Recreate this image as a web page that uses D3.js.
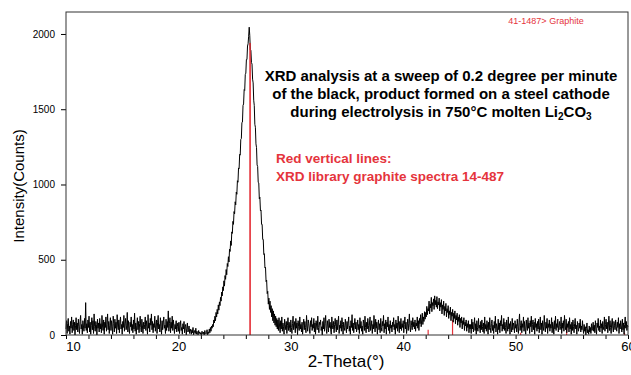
<!DOCTYPE html>
<html>
<head>
<meta charset="utf-8">
<script src="https://cdn.jsdelivr.net/npm/d3@7"></script>
<style>
  body { margin: 0; background: #fff; }
  text { font-family: "Liberation Sans", Arial, sans-serif; }
</style>
</head>
<body>
<div id="chart"></div>
<script>
// scan start / step (2-theta, degrees)
var thetaStart = 10, thetaStep = 0.05;

// intensity counts, one row per degree (10.00 .. 60.00)
var intensity = [
  40, 95, 10, 75, 110, 25, 60, 5, 90, 45, 120, 15, 70, 100, 30, 85, 0, 65, 115, 35,
  80, 20, 105, 55, 10, 90, 130, 40, 70, 5, 95, 60, 25, 110, 45, 215, 30, 75, 15, 100,
  50, 125, 20, 85, 5, 65, 115, 35, 95, 10, 140, 55, 25, 90, 70, 0, 105, 45, 80, 20,
  110, 40, 75, 15, 130, 60, 30, 100, 5, 85, 50, 120, 25, 70, 140, 35, 90, 10, 65, 115,
  30, 95, 55, 5, 125, 75, 20, 105, 45, 85, 10, 135, 60, 35, 100, 15, 80, 120, 40, 70,
  5, 90, 50, 130, 25, 75, 110, 35, 60, 150, 20, 95, 45, 10, 85, 55, 120, 30, 70, 15,
  100, 40, 145, 25, 80, 5, 65, 115, 35, 90, 15, 75, 125, 50, 20, 105, 60, 10, 85, 40,
  70, 120, 30, 95, 55, 5, 135, 45, 80, 20, 110, 65, 140, 35, 90, 15, 75, 50, 125, 25,
  60, 100, 10, 85, 130, 40, 70, 20, 115, 55, 5, 95, 35, 80, 120, 45, 65, 10, 105, 30,
  90, 50, 160, 25, 75, 115, 15, 85, 45, 125, 30, 100, 60, 10, 70, 40, 95, 20, 55, 80,
  25, 85, 10, 60, 95, 30, 50, 5, 75, 40, 90, 15, 55, 70, 0, 45, 80, 20, 35, 60,
  10, 40, 25, 5, 35, 15, 50, 0, 20, 30, 10, 45, 5, 25, 15, 0, 30, 10, 20, 5,
  15, 0, 25, 10, 5, 20, 0, 30, 10, 5, 15, 35, 0, 20, 10, 40, 15, 50, 25, 60,
  45, 70, 55, 100, 80, 125, 95, 150, 120, 170, 140, 200, 165, 220, 195, 250, 225, 285, 260, 320,
  295, 360, 325, 395, 370, 435, 400, 475, 455, 520, 485, 570, 555, 625, 595, 685, 675, 755, 735, 820,
  805, 885, 865, 950, 935, 1025, 1015, 1110, 1105, 1200, 1195, 1300, 1305, 1410, 1415, 1525, 1535, 1630, 1625, 1730,
  1740, 1830, 1830, 1920, 1935, 1985, 2045, 1990, 1895, 1890, 1810, 1800, 1700, 1675, 1560, 1525, 1400, 1380, 1270, 1245,
  1130, 1120, 1015, 1010, 905, 915, 825, 830, 735, 735, 635, 635, 535, 540, 445, 450, 355, 365, 275, 290,
  205, 245, 170, 225, 150, 195, 120, 175, 95, 160, 80, 140, 65, 125, 55, 110, 40, 100, 30, 115,
  60, 15, 95, 40, 120, 25, 80, 55, 5, 105, 70, 35, 90, 10, 65, 115, 30, 85, 45, 20,
  100, 50, 10, 75, 125, 35, 60, 90, 15, 110, 45, 80, 0, 95, 55, 30, 120, 40, 70, 20,
  85, 5, 65, 105, 35, 90, 50, 15, 130, 60, 25, 100, 75, 40, 10, 95, 55, 115, 30, 70,
  45, 110, 20, 80, 5, 95, 60, 35, 125, 50, 15, 85, 70, 100, 30, 55, 0, 90, 40, 115,
  25, 75, 130, 45, 10, 95, 60, 20, 105, 50, 85, 35, 5, 120, 65, 40, 90, 15, 70, 110,
  55, 20, 100, 35, 80, 125, 10, 65, 45, 95, 25, 115, 70, 5, 85, 50, 30, 105, 60, 15,
  90, 40, 75, 120, 25, 60, 5, 95, 50, 135, 30, 80, 15, 65, 110, 40, 85, 20, 55, 100,
  35, 70, 10, 115, 45, 90, 25, 60, 5, 100, 75, 30, 125, 50, 15, 85, 40, 110, 65, 20,
  80, 120, 30, 55, 95, 10, 70, 40, 130, 60, 20, 105, 45, 85, 5, 65, 100, 35, 75, 15,
  110, 50, 25, 90, 60, 130, 15, 75, 40, 100, 5, 85, 55, 120, 30, 70, 10, 95, 45, 65,
  20, 85, 55, 115, 35, 70, 5, 100, 45, 80, 25, 125, 60, 15, 90, 40, 110, 30, 75, 50,
  95, 15, 70, 120, 40, 85, 10, 60, 105, 30, 75, 140, 50, 20, 95, 65, 35, 115, 55, 85,
  40, 100, 25, 80, 60, 120, 45, 95, 30, 110, 75, 135, 55, 100, 145, 70, 120, 90, 155, 105,
  150, 120, 190, 135, 175, 160, 225, 140, 205, 180, 250, 155, 215, 195, 240, 170, 260, 200, 230, 185,
  255, 175, 220, 200, 245, 160, 215, 185, 235, 140, 200, 170, 225, 130, 190, 160, 210, 120, 175, 150,
  195, 110, 160, 135, 185, 95, 150, 125, 170, 85, 145, 110, 160, 75, 130, 100, 145, 65, 120, 90,
  135, 50, 110, 80, 120, 40, 95, 70, 115, 30, 85, 60, 100, 25, 75, 50, 95, 15, 70, 40,
  70, 10, 105, 40, 85, 20, 60, 115, 30, 75, 5, 95, 50, 25, 110, 45, 65, 15, 90, 35,
  100, 55, 20, 80, 10, 120, 40, 70, 25, 95, 60, 5, 85, 35, 115, 50, 15, 75, 100, 30,
  65, 10, 90, 45, 125, 20, 75, 55, 5, 105, 35, 80, 15, 95, 60, 130, 25, 70, 40, 110,
  30, 85, 50, 10, 100, 65, 25, 120, 40, 75, 5, 90, 55, 20, 110, 35, 80, 60, 15, 95,
  45, 70, 20, 105, 55, 10, 85, 140, 30, 65, 95, 15, 75, 50, 120, 25, 90, 40, 5, 100,
  60, 30, 115, 45, 80, 10, 95, 55, 125, 20, 70, 100, 35, 85, 5, 110, 50, 75, 25, 90,
  40, 105, 15, 65, 120, 35, 80, 5, 95, 55, 30, 130, 60, 20, 85, 45, 110, 10, 75, 50,
  100, 25, 70, 45, 115, 15, 85, 60, 5, 95, 40, 125, 30, 75, 50, 105, 20, 65, 90, 35,
  55, 120, 10, 80, 45, 95, 25, 130, 60, 35, 105, 15, 75, 50, 90, 20, 115, 40, 70, 5,
  85, 30, 100, 55, 15, 75, 110, 40, 65, 5, 90, 50, 25, 80, 45, 105, 20, 60, 35, 95,
  40, 10, 70, 25, 55, 0, 45, 80, 15, 35, 5, 60, 20, 50, 10, 75, 30, 45, 85, 25,
  65, 15, 95, 40, 5, 80, 50, 110, 30, 60, 20, 100, 45, 75, 10, 90, 55, 35, 120, 25,
  70, 105, 40, 85, 15, 60, 125, 30, 95, 50, 10, 80, 110, 45, 20, 90, 65, 35, 100, 55,
  25, 85, 50, 115, 10, 75, 40, 95, 60, 20, 105, 35, 80, 5, 70, 120, 45, 90, 30, 65,
  55
];

// graphite reference lines (41-1487)
var refTheta = [26.38, 42.22, 44.39, 50.45, 54.54, 59.69];
var refCounts = [1940, 35, 100, 15, 60, 15];

var yTicks = [0, 500, 1000, 1500, 2000];
var xTicks = d3.range(10, 61, 2);

var titleLines = [
  "XRD analysis at a sweep of 0.2 degree per minute",
  "of the black, product formed on a steel cathode",
  "during electrolysis in 750°C molten Li"
];

var margin = {top: 12, right: 3, bottom: 40, left: 66},
    width = 631 - margin.left - margin.right,
    height = 375 - margin.top - margin.bottom;

var svg = d3.select("#chart")
    .append("svg")
    .attr("width", 631)
    .attr("height", 375)
    .append("g")
    .attr("transform", "translate(" + margin.left + "," + margin.top + ")");

var x = d3.scaleLinear().domain([10, 60]).range([0, width]);
var y = d3.scaleLinear().domain([0, 2146]).range([height, 0]);

var red = "#e5343c";

// data points
var data = intensity.map(function(v, i) {
  return {theta: thetaStart + i * thetaStep, count: v};
});

// x axis
var xAxis = svg.append("g")
    .attr("transform", "translate(0," + height + ")")
    .call(d3.axisBottom(x)
      .tickValues(xTicks)
      .tickSize(4)
      .tickPadding(3)
      .tickFormat(function(d) { return d % 10 === 0 ? d : ""; }));
xAxis.select(".domain").remove();
xAxis.selectAll("text")
    .style("font-size", "13px")
    .attr("fill", "#000")
    .attr("dx", function(d) { return d === 10 ? "7px" : 0; });

// y axis
var yAxis = svg.append("g")
    .call(d3.axisLeft(y)
      .tickValues(yTicks)
      .tickFormat(d3.format("d"))
      .tickSize(5)
      .tickPadding(6));
yAxis.select(".domain").remove();
yAxis.selectAll("text")
    .style("font-size", "10px")
    .attr("fill", "#000");

// red library lines
svg.append("g")
    .selectAll("line")
    .data(refTheta)
    .enter().append("line")
    .attr("x1", function(d) { return x(d); })
    .attr("x2", function(d) { return x(d); })
    .attr("y1", y(0))
    .attr("y2", function(d, i) { return y(refCounts[i]); })
    .attr("stroke", red)
    .attr("stroke-width", 1.2);

// the scan
svg.append("path")
    .datum(data)
    .attr("fill", "none")
    .attr("stroke", "#000")
    .attr("stroke-width", 1)
    .attr("d", d3.line()
      .x(function(d) { return x(d.theta); })
      .y(function(d) { return y(d.count); }));

// main library line drawn over the peak again
svg.append("line")
    .attr("x1", x(refTheta[0])).attr("x2", x(refTheta[0]))
    .attr("y1", y(0)).attr("y2", y(refCounts[0]))
    .attr("stroke", red)
    .attr("stroke-width", 1.2);

// frame
svg.append("rect")
    .attr("width", width)
    .attr("height", height)
    .attr("fill", "none")
    .attr("stroke", "#333")
    .attr("stroke-width", 1);

// axis titles
svg.append("text")
    .attr("x", 280)
    .attr("y", height + 32)
    .attr("text-anchor", "middle")
    .style("font-size", "17px")
    .text("2-Theta(°)");

svg.append("text")
    .attr("transform", "rotate(-90)")
    .attr("x", -174)
    .attr("y", -42)
    .attr("text-anchor", "middle")
    .style("font-size", "15px")
    .text("Intensity(Counts)");

// library label
svg.append("text")
    .attr("x", 480)
    .attr("y", 12)
    .attr("text-anchor", "middle")
    .attr("fill", red)
    .style("font-size", "9px")
    .text("41-1487> Graphite");

// annotation
var title = svg.append("text")
    .attr("text-anchor", "middle")
    .style("font-size", "15px")
    .attr("font-weight", "bold");
titleLines.forEach(function(t, i) {
  var ts = title.append("tspan")
      .attr("x", 375)
      .attr("y", 69 + i * 18)
      .text(t);
  if (i === 2) {
    ts.append("tspan").attr("dy", 3).style("font-size", "10px").text("2");
    ts.append("tspan").attr("dy", -3).text("CO");
    ts.append("tspan").attr("dy", 3).style("font-size", "10px").text("3");
  }
});

svg.append("text")
    .attr("x", 210)
    .attr("y", 151)
    .attr("fill", red)
    .style("font-size", "13.5px")
    .attr("font-weight", "bold")
    .text("Red vertical lines:");
svg.append("text")
    .attr("x", 210)
    .attr("y", 169)
    .attr("fill", red)
    .style("font-size", "13.5px")
    .attr("font-weight", "bold")
    .text("XRD library graphite spectra 14-487");
</script>
</body>
</html>
